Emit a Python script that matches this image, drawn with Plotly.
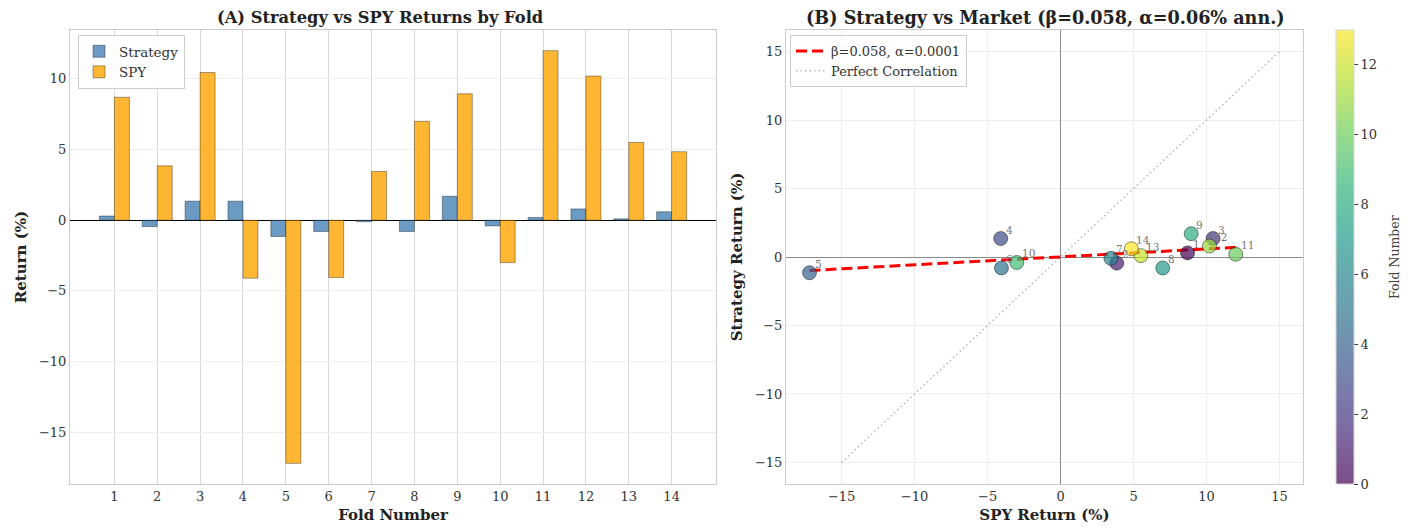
import plotly.graph_objects as go
import plotly.colors as pc

folds = list(range(1, 15))
strategy_ret = [0.3, -0.45, 1.35, 1.35, -1.15, -0.8, -0.1, -0.8, 1.7, -0.4, 0.2, 0.8, 0.1, 0.6]
spy_ret = [8.7, 3.85, 10.45, -4.1, -17.2, -4.05, 3.45, 7.0, 8.95, -3.0, 12.0, 10.2, 5.5, 4.85]
fold_index = list(range(0, 14))
beta = 0.058
alpha = 0.0001
perfect_line = [-15, 15]

W, H = 1413, 528
FONT = "DejaVu Serif"

def px_x(p):
    return p / W

def px_y(p):
    return 1 - p / H

# viridis with alpha 0.7
vir = pc.sequential.Viridis
n = len(vir)
cscale = []
for i, c in enumerate(vir):
    r, g, b = pc.hex_to_rgb(c)
    cscale.append([i / (n - 1), f"rgba({r},{g},{b},0.7)"])

fig = go.Figure()

fig.add_trace(go.Bar(
    x=folds, y=strategy_ret, width=0.35, offset=-0.35, name="Strategy",
    marker=dict(color="rgba(70,130,180,0.8)", line=dict(color="rgba(0,0,0,0.45)", width=0.8)),
    xaxis="x", yaxis="y", legend="legend"))
fig.add_trace(go.Bar(
    x=folds, y=spy_ret, width=0.35, offset=0, name="SPY",
    marker=dict(color="rgba(255,165,0,0.8)", line=dict(color="rgba(0,0,0,0.45)", width=0.8)),
    xaxis="x", yaxis="y", legend="legend"))

# perfect correlation
fig.add_trace(go.Scatter(
    x=perfect_line, y=perfect_line, mode="lines", name="Perfect Correlation",
    line=dict(color="rgba(128,128,128,0.55)", width=1.5, dash="1.5px,3px"),
    xaxis="x2", yaxis="y2", legend="legend2"))

# regression line
xmin, xmax = min(spy_ret), max(spy_ret)
fig.add_trace(go.Scatter(
    x=[xmin, xmax], y=[beta * xmin + alpha * 100, beta * xmax + alpha * 100],
    mode="lines", name=f"β={beta}, α={alpha}",
    line=dict(color="red", width=3, dash="11px,5px"),
    xaxis="x2", yaxis="y2", legend="legend2"))

fig.add_trace(go.Scatter(
    x=spy_ret, y=strategy_ret, mode="markers", showlegend=False,
    marker=dict(size=14, color=fold_index, colorscale=cscale, cmin=0, cmax=13,
                line=dict(color="rgba(0,0,0,0.55)", width=0.8),
                colorbar=dict(
                    x=px_x(1336), xanchor="left", y=px_y(257), yanchor="middle",
                    xpad=0, ypad=0,
                    thickness=18, thicknessmode="pixels", len=454, lenmode="pixels",
                    outlinewidth=1, outlinecolor="#d5d5d5",
                    tickvals=[0, 2, 4, 6, 8, 10, 12], ticks="outside",
                    ticklen=4, tickcolor="#333", tickfont=dict(family=FONT, size=13, color="#333"))),
    xaxis="x2", yaxis="y2"))

annotations = []
for f, xv, yv in zip(folds, spy_ret, strategy_ret):
    annotations.append(dict(x=xv, y=yv, xref="x2", yref="y2", text=str(f), showarrow=False,
                            xanchor="left", yanchor="bottom", xshift=3, yshift=1,
                            font=dict(family=FONT, size=10.5, color="#777")))

annotations.append(dict(x=px_x(380), y=px_y(17), xref="paper", yref="paper",
                        text="<b>(A) Strategy vs SPY Returns by Fold</b>", showarrow=False,
                        xanchor="center", yanchor="middle",
                        font=dict(family=FONT, size=16.3, color="#222")))
annotations.append(dict(x=px_x(1045), y=px_y(17), xref="paper", yref="paper",
                        text="<b>(B) Strategy vs Market (β=0.058, α=0.06% ann.)</b>", showarrow=False,
                        xanchor="center", yanchor="middle",
                        font=dict(family=FONT, size=17.6, color="#222")))
annotations.append(dict(x=px_x(1394), y=px_y(257), xref="paper", yref="paper",
                        text="Fold Number", showarrow=False, textangle=-90,
                        xanchor="center", yanchor="middle",
                        font=dict(family=FONT, size=12.5, color="#444")))

tickfont = dict(family=FONT, size=13, color="#333")
titlefont = dict(family=FONT, size=15, color="#222")

fig.update_layout(
    width=W, height=H, margin=dict(l=0, r=0, t=0, b=0),
    paper_bgcolor="white", plot_bgcolor="white",
    barmode="overlay", font=dict(family=FONT, color="#333"),
    annotations=annotations,
    xaxis=dict(domain=[px_x(70), px_x(716)], range=[-0.035, 15.035], tickvals=folds,
               showgrid=True, gridcolor="#d9d9d9", gridwidth=1, zeroline=False,
               showline=True, linecolor="#cccccc", linewidth=1, mirror=True,
               tickfont=tickfont, ticks="", anchor="y",
               title=dict(text="<b>Fold Number</b>", font=titlefont, standoff=6)),
    yaxis=dict(domain=[px_y(484), px_y(30)], range=[-18.66, 13.46], tickvals=[-15, -10, -5, 0, 5, 10],
               showgrid=True, gridcolor="#eeeeee", gridwidth=1,
               zeroline=True, zerolinecolor="black", zerolinewidth=1.3,
               showline=True, linecolor="#cccccc", linewidth=1, mirror=True,
               tickfont=tickfont, ticks="", anchor="x", tickformat="d",
               title=dict(text="<b>Return (%)</b>", font=titlefont, standoff=8)),
    xaxis2=dict(domain=[px_x(786), px_x(1303)], range=[-18.81, 16.61], tickvals=[-15, -10, -5, 0, 5, 10, 15],
                showgrid=True, gridcolor="#eeeeee", gridwidth=1,
                zeroline=True, zerolinecolor="#8a8a8a", zerolinewidth=1,
                showline=True, linecolor="#cccccc", linewidth=1, mirror=True,
                tickfont=tickfont, ticks="", anchor="y2",
                title=dict(text="<b>SPY Return (%)</b>", font=titlefont, standoff=6)),
    yaxis2=dict(domain=[px_y(484), px_y(30)], range=[-16.57, 16.57], tickvals=[-15, -10, -5, 0, 5, 10, 15],
                showgrid=True, gridcolor="#eeeeee", gridwidth=1,
                zeroline=True, zerolinecolor="#8a8a8a", zerolinewidth=1,
                showline=True, linecolor="#cccccc", linewidth=1, mirror=True,
                tickfont=tickfont, ticks="", anchor="x2",
                title=dict(text="<b>Strategy Return (%)</b>", font=titlefont, standoff=8)),
    legend=dict(x=px_x(78), y=px_y(35), xanchor="left", yanchor="top",
                bgcolor="rgba(255,255,255,0.85)", bordercolor="#cccccc", borderwidth=1,
                font=dict(family=FONT, size=13.5, color="#333"), tracegroupgap=0),
    legend2=dict(x=px_x(790), y=px_y(35), xanchor="left", yanchor="top",
                 bgcolor="rgba(255,255,255,0.85)", bordercolor="#cccccc", borderwidth=1,
                 font=dict(family=FONT, size=13, color="#333"), traceorder="reversed"),
)

fig.write_html("out.html", config={"displayModeBar": False},
               post_script="document.body.style.margin='0';document.body.style.overflow='hidden';")
